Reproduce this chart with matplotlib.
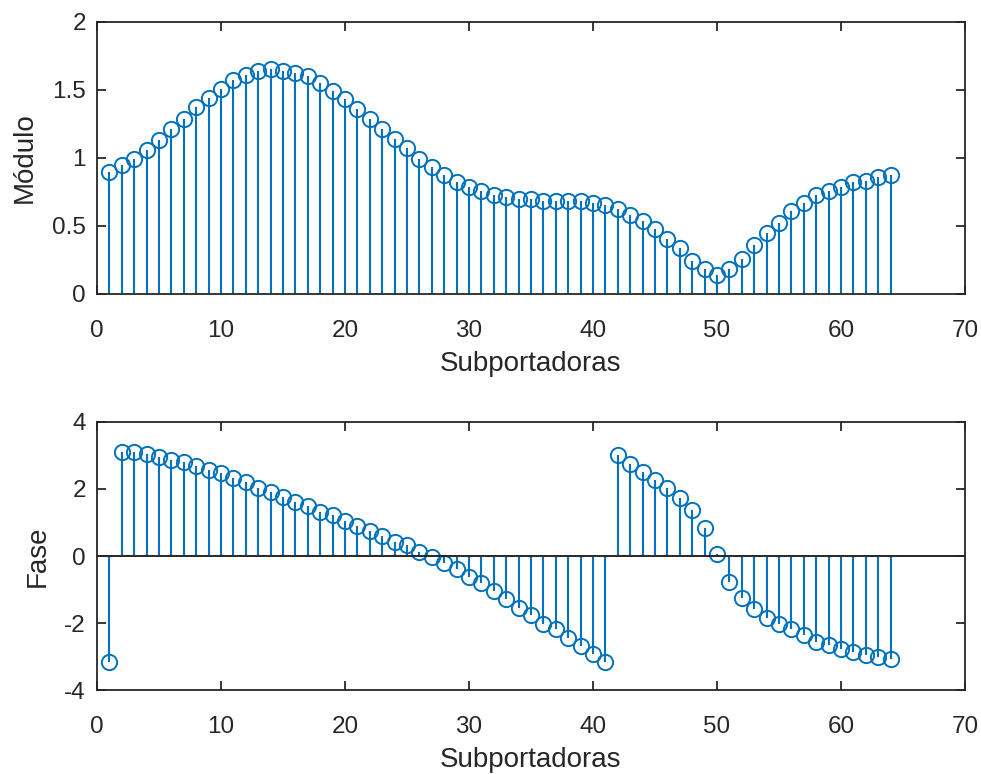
"""Stem plots of channel magnitude and phase per subcarrier (MATLAB look)."""
import matplotlib
matplotlib.use("Agg")
import matplotlib.pyplot as plt
import numpy as np

SUBCARRIERS = np.arange(1, 65)

MODULO = [
    0.90, 0.95, 0.99, 1.06, 1.13, 1.21, 1.29, 1.375, 1.44, 1.51,
    1.57, 1.61, 1.64, 1.655, 1.64, 1.625, 1.60, 1.55, 1.49, 1.43,
    1.36, 1.29, 1.21, 1.14, 1.07, 0.99, 0.93, 0.875, 0.82, 0.79,
    0.76, 0.73, 0.71, 0.70, 0.70, 0.685, 0.685, 0.685, 0.685, 0.67,
    0.655, 0.625, 0.58, 0.54, 0.48, 0.405, 0.34, 0.24, 0.18, 0.14,
    0.18, 0.26, 0.36, 0.45, 0.52, 0.61, 0.67, 0.73, 0.76, 0.79,
    0.82, 0.83, 0.86, 0.875,
]

FASE = [
    -3.15, 3.11, 3.10, 3.05, 2.94, 2.86, 2.82, 2.69, 2.57, 2.47,
    2.32, 2.20, 2.04, 1.92, 1.77, 1.61, 1.48, 1.32, 1.21, 1.03,
    0.90, 0.74, 0.61, 0.43, 0.32, 0.12, -0.03, -0.22, -0.40, -0.62,
    -0.82, -1.04, -1.29, -1.54, -1.76, -2.02, -2.19, -2.44, -2.69, -2.92,
    -3.15, 3.00, 2.74, 2.51, 2.27, 2.04, 1.74, 1.37, 0.85, 0.07,
    -0.77, -1.24, -1.57, -1.84, -2.02, -2.19, -2.37, -2.57, -2.67, -2.79,
    -2.86, -2.95, -3.00, -3.08,
]

BLUE = "#0072BD"
AXIS_GRAY = "#262626"

plt.rcParams["font.family"] = ["Liberation Sans", "DejaVu Sans"]


def style_axes(ax):
    for side in ax.spines.values():
        side.set_color(AXIS_GRAY)
        side.set_linewidth(1.3)
    ax.tick_params(direction="in", length=6.5, width=1.3, colors=AXIS_GRAY,
                   labelsize=17.5, top=True, right=True)
    ax.tick_params(axis="x", pad=19)
    ax.tick_params(axis="y", pad=8)
    for lbl in ax.get_xticklabels() + ax.get_yticklabels():
        lbl.set_color(AXIS_GRAY)


def draw_stem(ax, y, baseline_visible):
    markers, stems, base = ax.stem(SUBCARRIERS, y, basefmt="-")
    plt.setp(stems, color=BLUE, linewidth=1.5)
    plt.setp(markers, color=BLUE, markerfacecolor="none", markersize=11,
             markeredgewidth=1.4)
    plt.setp(base, color=AXIS_GRAY, linewidth=1.4, visible=baseline_visible)
    base.set_xdata([0, 70])


fig = plt.figure(figsize=(9.81, 7.74), dpi=100)
ax1 = fig.add_axes([0.0989, 0.6202, 0.8848, 0.3514])
ax2 = fig.add_axes([0.0989, 0.1085, 0.8848, 0.3463])

draw_stem(ax1, MODULO, False)
ax1.set_xlim(0, 70)
ax1.set_ylim(0, 2)
ax1.set_xticks(np.arange(0, 71, 10))
ax1.set_yticks([0, 0.5, 1, 1.5, 2])
ax1.set_yticklabels(["0", "0.5", "1", "1.5", "2"])
ax1.set_xlabel("Subportadoras", fontsize=20, color=AXIS_GRAY, labelpad=6)
ax1.set_ylabel("Módulo", fontsize=20, color=AXIS_GRAY, labelpad=10)
style_axes(ax1)

draw_stem(ax2, FASE, True)
ax2.set_xlim(0, 70)
ax2.set_ylim(-4, 4)
ax2.set_xticks(np.arange(0, 71, 10))
ax2.set_yticks([-4, -2, 0, 2, 4])
ax2.set_yticklabels(["-4", "-2", "0", "2", "4"])
ax2.set_xlabel("Subportadoras", fontsize=20, color=AXIS_GRAY, labelpad=6)
ax2.set_ylabel("Fase", fontsize=20, color=AXIS_GRAY, labelpad=10)
style_axes(ax2)

fig.savefig("out.png", dpi=100)
plt.close(fig)
